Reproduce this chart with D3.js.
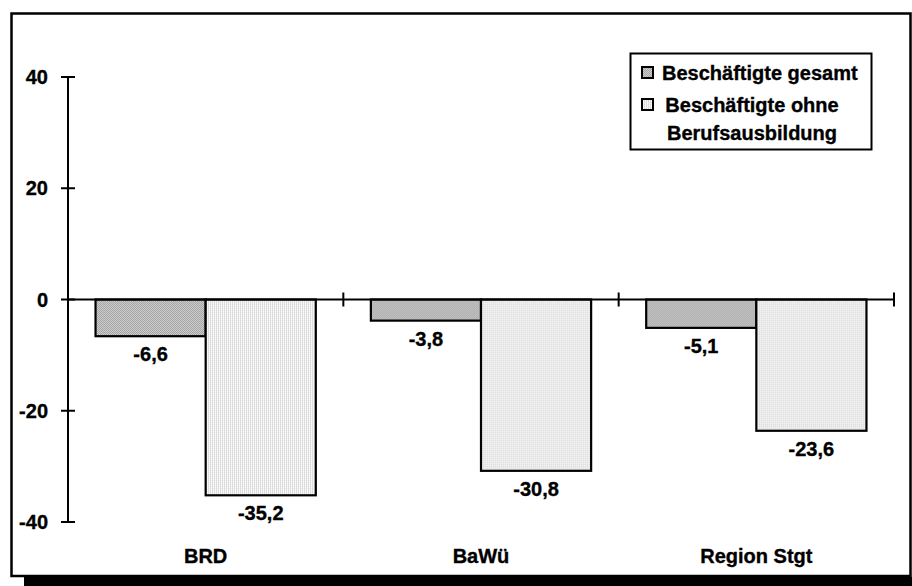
<!DOCTYPE html>
<html>
<head>
<meta charset="utf-8">
<script src="https://cdn.jsdelivr.net/npm/d3@7"></script>
<style>
  html, body { margin: 0; padding: 0; background: #fff; }
  svg { display: block; }
  text { font-family: "Liberation Sans", Arial, sans-serif; font-weight: bold; fill: #000; stroke: #000; stroke-width: 0.35px; }
</style>
</head>
<body>
<svg id="chart" width="912" height="586"></svg>
<script>
// Veränderung der Beschäftigung in %
const categories = ["BRD", "BaWü", "Region Stgt"];
const seriesNames = ["Beschäftigte gesamt", "Beschäftigte ohne Berufsausbildung"];
const gesamt = [-6.6, -3.8, -5.1];
const ohneAusbildung = [-35.2, -30.8, -23.6];
const yTicks = [-40, -20, 0, 20, 40];

const svg = d3.select("#chart");
const fmt = v => d3.format(".1f")(v).replace("\u2212", "-").replace(".", ",");
const FS = 20;

// fill patterns
const defs = svg.append("defs");
const pDark = defs.append("pattern").attr("id", "patDark")
  .attr("width", 2).attr("height", 2).attr("patternUnits", "userSpaceOnUse");
pDark.append("rect").attr("width", 2).attr("height", 2).attr("fill", "#cbcbcb");
pDark.append("rect").attr("x", 0).attr("y", 0).attr("width", 1).attr("height", 1).attr("fill", "#a6a6a6");
pDark.append("rect").attr("x", 1).attr("y", 1).attr("width", 1).attr("height", 1).attr("fill", "#a6a6a6");

const pLight = defs.append("pattern").attr("id", "patLight")
  .attr("width", 2).attr("height", 2).attr("patternUnits", "userSpaceOnUse");
pLight.append("rect").attr("width", 2).attr("height", 2).attr("fill", "#f7f7f7");
pLight.append("rect").attr("x", 0).attr("y", 0).attr("width", 1).attr("height", 1).attr("fill", "#d6d6d6");
pLight.append("rect").attr("x", 0).attr("y", 1).attr("width", 1).attr("height", 1).attr("fill", "#e2e2e2");

const fills = ["url(#patDark)", "url(#patLight)"];

// frame with drop shadow
svg.append("rect").attr("x", 24).attr("y", 577).attr("width", 888).attr("height", 9).attr("fill", "#000");
svg.append("rect").attr("x", 11.5).attr("y", 13.5).attr("width", 899).attr("height", 562.5)
  .attr("fill", "#fff").attr("stroke", "#000").attr("stroke-width", 2.5);

// scales
const y = d3.scaleLinear().domain([-40, 40]).range([522, 77]);
const x = d3.scaleBand().domain(categories).range([68, 894]).paddingInner(0).paddingOuter(0);
const bw = x.bandwidth();
const xs = d3.scaleBand().domain(seriesNames).range([bw * 0.1, bw * 0.9]);

// y axis line and cross ticks
svg.append("line").attr("x1", 68).attr("x2", 68).attr("y1", y(40)).attr("y2", y(-40))
  .attr("stroke", "#000").attr("stroke-width", 2);
svg.selectAll(".ytick").data(yTicks).join("line")
  .attr("x1", 61).attr("x2", 75).attr("y1", d => y(d)).attr("y2", d => y(d))
  .attr("stroke", "#000").attr("stroke-width", 2);
svg.selectAll(".ylab").data(yTicks).join("text")
  .attr("x", 48).attr("y", d => y(d)).attr("dy", "0.36em")
  .attr("text-anchor", "end").attr("font-size", FS)
  .text(d => d);

// bars
const data = categories.map((c, i) => ({ c, vals: [gesamt[i], ohneAusbildung[i]] }));
const groups = svg.selectAll(".grp").data(data).join("g")
  .attr("transform", d => `translate(${x(d.c)},0)`);

groups.selectAll("rect").data(d => d.vals.map((v, j) => ({ v, s: seriesNames[j], j })))
  .join("rect")
  .attr("x", d => xs(d.s)).attr("width", xs.bandwidth())
  .attr("y", d => Math.min(y(0), y(d.v))).attr("height", d => Math.abs(y(d.v) - y(0)))
  .attr("fill", d => fills[d.j]).attr("stroke", "#000").attr("stroke-width", 2.2);

groups.selectAll(".val").data(d => d.vals.map((v, j) => ({ v, s: seriesNames[j] })))
  .join("text")
  .attr("x", d => xs(d.s) + xs.bandwidth() / 2).attr("y", d => y(d.v) + 25)
  .attr("text-anchor", "middle").attr("font-size", FS)
  .text(d => fmt(d.v));

// zero line with category ticks
svg.append("line").attr("x1", 68).attr("x2", 894).attr("y1", y(0)).attr("y2", y(0))
  .attr("stroke", "#000").attr("stroke-width", 2.2);
svg.selectAll(".xtick").data(categories.map(c => x(c) + bw).concat([68])).join("line")
  .attr("x1", d => d).attr("x2", d => d).attr("y1", y(0) - 7).attr("y2", y(0) + 7)
  .attr("stroke", "#000").attr("stroke-width", 2);

// category labels
svg.selectAll(".cat").data(categories).join("text")
  .attr("x", d => x(d) + bw / 2).attr("y", 563)
  .attr("text-anchor", "middle").attr("font-size", FS)
  .text(d => d);

// legend
const lg = svg.append("g");
lg.append("rect").attr("x", 630.5).attr("y", 53.5).attr("width", 241).attr("height", 96)
  .attr("fill", "#fff").attr("stroke", "#000").attr("stroke-width", 2);
lg.append("rect").attr("x", 642).attr("y", 67).attr("width", 11).attr("height", 11)
  .attr("fill", fills[0]).attr("stroke", "#000").attr("stroke-width", 2);
lg.append("rect").attr("x", 642).attr("y", 99).attr("width", 11).attr("height", 11)
  .attr("fill", fills[1]).attr("stroke", "#000").attr("stroke-width", 2);
lg.append("text").attr("x", 662).attr("y", 80).attr("font-size", FS).text(seriesNames[0]);
const l2 = lg.append("text").attr("text-anchor", "middle").attr("font-size", FS);
l2.append("tspan").attr("x", 752).attr("y", 112).text("Beschäftigte ohne");
l2.append("tspan").attr("x", 752).attr("y", 140).text("Berufsausbildung");
</script>
</body>
</html>
